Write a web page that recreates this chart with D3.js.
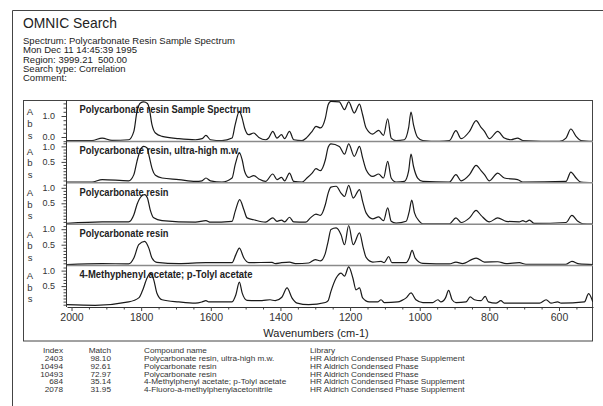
<!DOCTYPE html>
<html>
<head>
<meta charset="utf-8">
<script src="https://cdn.jsdelivr.net/npm/d3@7"></script>
<style>
body { margin: 0; background: #fff; }
svg { display: block; font-family: "Liberation Sans", Arial, Helvetica, sans-serif; }
text { white-space: pre; }
</style>
</head>
<body>
<svg id="chart" width="603" height="406"></svg>
<script>
const headerTitle = "OMNIC Search"
const headerLines = [
    "Spectrum: Polycarbonate Resin Sample Spectrum",
    "Mon Dec 11 14:45:39 1995",
    "Region: 3999.21  500.00",
    "Search type: Correlation",
    "Comment:"
]

const panelTitles = [
    "Polycarbonate resin Sample Spectrum",
    "Polycarbonate resin, ultra-high m.w.",
    "Polycarbonate resin",
    "Polycarbonate resin",
    "4-Methyphenyl acetate; p-Tolyl acetate"
]

const absTicks = [[0.0, 1.0], [0.5, 1.0], [0.5, 1.0], [0.5, 1.0], [0.5, 1.0]]
const wavenumberTicks = [2000, 1800, 1600, 1400, 1200, 1000, 800, 600]
const xAxisTitle = "Wavenumbers (cm-1)"

// [wavenumber, absorbance]
const sampleSpectrum = [
    [2013,-0.17],[1941,-0.17],[1912,-0.05],[1884,-0.16],[1836,-0.13],[1821,0.27],[1812,1.22],[1802,1.62],
    [1793,1.67],[1782,1.60],[1777,1.38],[1769,0.59],[1759,0.19],[1740,0.03],[1692,-0.08],[1644,-0.13],
    [1625,-0.08],[1614,0.08],[1601,-0.13],[1568,-0.17],[1539,-0.05],[1530,0.59],[1518,1.22],[1510,0.90],
    [1503,0.43],[1491,0.11],[1477,0.19],[1462,-0.02],[1443,-0.13],[1434,-0.05],[1422,0.27],[1410,-0.05],
    [1397,0.11],[1388,-0.08],[1374,0.27],[1362,-0.13],[1338,-0.17],[1324,-0.02],[1309,0.27],[1298,0.51],
    [1285,0.43],[1271,0.90],[1263,1.54],[1255,1.70],[1231,1.67],[1216,1.30],[1204,1.67],[1188,1.14],
    [1173,1.57],[1164,1.06],[1154,0.43],[1135,0.14],[1118,0.32],[1104,0.08],[1092,0.87],[1082,-0.05],
    [1068,-0.17],[1044,-0.13],[1032,0.43],[1025,1.19],[1018,0.59],[1006,-0.02],[991,-0.17],[944,-0.21],
    [915,-0.17],[896,0.30],[881,-0.08],[857,0.27],[838,0.78],[824,0.46],[814,0.27],[800,-0.08],
    [776,0.27],[757,-0.05],[738,-0.13],[719,-0.05],[704,-0.17],[599,-0.21],[580,-0.05],[566,0.38],
    [551,0.03],[537,-0.17],[502,-0.21]
]

const ultraHighMw = [
    [2013,-0.15],[1941,-0.15],[1912,-0.07],[1836,-0.11],[1821,0.09],[1812,0.52],[1802,0.89],[1793,1.00],
    [1783,0.95],[1777,0.68],[1769,0.30],[1759,0.07],[1740,-0.02],[1692,-0.07],[1644,-0.13],[1625,-0.11],
    [1614,-0.02],[1601,-0.11],[1568,-0.15],[1539,-0.02],[1530,0.41],[1518,0.79],[1510,0.57],[1503,0.20],
    [1491,0.00],[1477,0.06],[1462,-0.05],[1443,-0.13],[1422,0.11],[1410,-0.07],[1397,0.00],[1388,-0.11],
    [1374,0.14],[1362,-0.13],[1338,-0.15],[1324,-0.02],[1309,0.14],[1298,0.28],[1285,0.22],[1271,0.57],
    [1263,0.97],[1255,1.08],[1231,1.00],[1216,0.75],[1204,1.08],[1188,0.68],[1173,1.00],[1164,0.63],
    [1154,0.25],[1135,0.03],[1118,0.11],[1104,-0.02],[1092,0.52],[1082,-0.02],[1068,-0.15],[1044,-0.13],
    [1032,0.20],[1025,0.75],[1018,0.36],[1006,-0.02],[991,-0.13],[915,-0.15],[896,0.09],[881,-0.11],
    [857,0.09],[838,0.39],[824,0.22],[814,0.09],[800,-0.11],[776,0.14],[757,-0.02],[719,-0.07],
    [704,-0.15],[580,-0.13],[566,0.17],[551,-0.02],[537,-0.15],[502,-0.17]
]

const resin10494 = [
    [2013,-0.15],[1912,-0.10],[1836,-0.10],[1821,0.13],[1812,0.46],[1799,0.73],[1790,0.78],[1782,0.67],
    [1774,0.29],[1764,0.03],[1740,-0.06],[1644,-0.11],[1614,-0.06],[1601,-0.11],[1539,-0.08],[1530,0.24],
    [1517,0.62],[1505,0.29],[1496,0.03],[1477,-0.03],[1443,-0.11],[1422,0.03],[1410,-0.08],[1397,-0.04],
    [1388,-0.10],[1374,0.05],[1362,-0.10],[1328,-0.11],[1314,0.03],[1298,0.15],[1285,0.11],[1271,0.46],
    [1263,0.83],[1255,1.02],[1240,1.05],[1226,0.83],[1216,0.72],[1204,1.08],[1191,0.67],[1173,0.94],
    [1164,0.56],[1154,0.19],[1135,0.00],[1118,0.06],[1104,-0.06],[1092,0.35],[1082,-0.08],[1068,-0.14],
    [1039,-0.08],[1030,0.24],[1023,0.60],[1015,0.19],[1001,-0.08],[991,-0.16],[915,-0.16],[896,0.03],
    [881,-0.12],[857,0.03],[838,0.27],[824,0.11],[800,-0.10],[776,0.03],[752,-0.08],[714,-0.10],
    [704,-0.06],[695,-0.10],[685,-0.04],[671,-0.15],[580,-0.12],[563,0.11],[546,-0.08],[532,-0.16],
    [502,-0.17]
]

const resin10493 = [
    [2013,-0.14],[1912,-0.11],[1836,-0.12],[1821,0.07],[1807,0.50],[1790,0.61],[1778,0.39],[1769,0.07],
    [1755,-0.07],[1692,-0.11],[1614,-0.08],[1539,-0.08],[1528,0.18],[1518,0.39],[1505,0.07],[1491,-0.08],
    [1424,-0.07],[1415,-0.11],[1397,-0.08],[1374,-0.06],[1357,-0.11],[1319,-0.09],[1300,0.02],[1285,-0.02],
    [1271,0.23],[1263,0.61],[1255,0.99],[1240,1.04],[1226,0.82],[1216,0.50],[1204,1.12],[1191,0.50],
    [1173,0.88],[1162,0.39],[1154,0.09],[1135,-0.06],[1111,-0.04],[1102,-0.08],[1089,0.12],[1080,-0.08],
    [1039,-0.08],[1030,0.07],[1022,0.32],[1013,0.07],[991,-0.10],[915,-0.12],[896,-0.06],[877,-0.11],
    [838,0.07],[814,-0.06],[776,-0.05],[752,-0.11],[714,-0.08],[695,-0.13],[580,-0.13],[563,-0.04],
    [542,-0.12],[502,-0.14]
]

const tolylAcetate = [
    [2013,-0.10],[1932,-0.12],[1836,-0.01],[1807,0.12],[1797,0.33],[1783,0.76],[1774,0.92],[1764,0.71],
    [1755,0.28],[1740,0.06],[1692,-0.01],[1644,-0.05],[1625,-0.01],[1614,0.03],[1606,-0.01],[1539,-0.01],
    [1528,0.22],[1518,0.63],[1510,0.28],[1496,0.04],[1453,0.03],[1430,0.06],[1415,0.03],[1396,0.14],
    [1381,0.44],[1367,0.12],[1352,-0.05],[1319,-0.10],[1271,-0.03],[1263,0.03],[1255,0.33],[1240,0.76],
    [1226,0.92],[1216,0.82],[1204,1.12],[1192,0.76],[1183,0.38],[1173,0.44],[1164,0.12],[1145,-0.01],
    [1121,-0.01],[1111,0.06],[1102,-0.03],[1063,-0.01],[1051,0.04],[1039,0.12],[1025,0.28],[1011,0.06],
    [991,-0.03],[963,-0.03],[948,0.06],[939,-0.01],[926,0.12],[917,0.36],[907,0.06],[896,-0.03],
    [867,-0.01],[855,0.15],[843,0.06],[824,0.03],[812,0.17],[803,-0.01],[781,-0.05],[767,0.03],
    [757,-0.05],[656,-0.05],[637,0.06],[623,-0.05],[604,-0.01],[594,-0.05],[527,-0.01],[515,0.26],
    [503,-0.01]
]

const spectra = [sampleSpectrum, ultraHighMw, resin10494, resin10493, tolylAcetate]

const tableHeader = ["Index", "Match", "Compound name", "Library"]
const hitIndex = ["2403", "10494", "10493", "684", "2078"]
const hitMatch = ["98.10", "92.61", "72.97", "35.14", "31.95"]
const hitCompound = [
    "Polycarbonate resin, ultra-high m.w.",
    "Polycarbonate resin",
    "Polycarbonate resin",
    "4-Methylphenyl acetate; p-Tolyl acetate",
    "4-Fluoro-a-methylphenylacetonitrile"
]
const hitLibrary = [
    "HR Aldrich Condensed Phase Supplement",
    "HR Aldrich Condensed Phase",
    "HR Aldrich Condensed Phase",
    "HR Aldrich Condensed Phase Supplement",
    "HR Aldrich Condensed Phase Supplement"
]

// layout
const plotLeft = 66
const plotRight = 593
const plotTop = 100
const plotBottom = 307
const panelH = (plotBottom - plotTop) / spectra.length
const titleWidths = [171, 161, 89, 89, 173]
const ink = "#222"

var svg = d3.select("#chart")

var x = d3.scaleLinear().domain([2013, 502.4]).range([67, plotRight])

// the original type is wide but packed tightly: draw small, then widen
function widen(sel, factor) {
    sel.each(function () {
        let w = this.getComputedTextLength()
        d3.select(this)
            .attr("textLength", w * factor)
            .attr("lengthAdjust", "spacingAndGlyphs")
    })
}

// outer frame
svg.append("path")
    .attr("d", "M12.5,406V10.5H603")
    .attr("fill", "none")
    .attr("stroke", "#444")

svg.append("text")
    .attr("x", 23).attr("y", 27.5)
    .attr("font-size", 15)
    .attr("textLength", 94)
    .attr("lengthAdjust", "spacingAndGlyphs")
    .attr("fill", ink)
    .text(headerTitle)

svg.append("g").selectAll("text")
    .data(headerLines)
    .enter().append("text")
    .attr("x", 23)
    .attr("y", (d, i) => 44 + i * 9.35)
    .attr("font-size", 8.4)
    .attr("fill", ink)
    .text(d => d)
    .call(widen, 1.135)

// inner box
svg.append("rect")
    .attr("x", 23.5).attr("y", 100.5)
    .attr("width", 569).attr("height", 240.5)
    .attr("fill", "none")
    .attr("stroke", "#444")

var defs = svg.append("defs")

spectra.forEach(function (data, i) {
    let top = plotTop + i * panelH
    let y = d3.scaleLinear().domain([0, 1])
        .range(i === 0 ? [top + 37, top + 16] : [top + 36, top + 5])

    defs.append("clipPath").attr("id", "clip" + i)
        .append("rect")
        .attr("x", plotLeft).attr("y", top)
        .attr("width", plotRight - plotLeft).attr("height", panelH)

    let g = svg.append("g")

    if (i > 0) {
        g.append("line")
            .attr("x1", plotLeft).attr("x2", plotRight)
            .attr("y1", top).attr("y2", top)
            .attr("stroke", "#8a8a8a")
            .attr("stroke-width", 1.5)
    }

    // minor ticks
    let lo = y.invert(top + panelH), hi = y.invert(top)
    let step = i === 0 ? 0.2 : 0.1
    let minor = d3.range(Math.ceil(lo / step) * step, hi, step)
        .filter(v => absTicks[i].every(t => Math.abs(t - v) > 1e-6))
    g.append("g")
        .attr("transform", "translate(" + plotLeft + ",0)")
        .call(d3.axisLeft(y).tickValues(minor).tickSize(2.5).tickFormat(""))
        .call(a => a.select(".domain").remove())
        .call(a => a.selectAll("line").attr("stroke", "#444"))

    g.append("g")
        .attr("transform", "translate(" + plotLeft + ",0)")
        .call(d3.axisLeft(y).tickValues(absTicks[i]).tickSize(4.5).tickPadding(6.5).tickFormat(d3.format(".1f")))
        .call(a => a.select(".domain").remove())
        .call(a => a.selectAll("line").attr("stroke", "#444"))
        .call(a => a.selectAll("text")
            .attr("font-size", 8.3)
            .attr("font-family", "Liberation Sans, Arial, sans-serif")
            .attr("fill", "#333")
            .call(widen, 1.08))

    let absOffsets = i === 0 ? [12, 24, 35.5] : [10, 21.5, 33]
    g.append("g").selectAll("text")
        .data(["A", "b", "s"])
        .enter().append("text")
        .attr("x", 30)
        .attr("y", (d, k) => top + absOffsets[k] + 3.4)
        .attr("text-anchor", "middle")
        .attr("font-size", 9.5)
        .attr("fill", "#333")
        .text(d => d)

    g.append("text")
        .attr("x", 79.5)
        .attr("y", top + 12.7)
        .attr("font-size", 10)
        .attr("font-weight", "bold")
        .attr("textLength", titleWidths[i])
        .attr("lengthAdjust", "spacingAndGlyphs")
        .attr("fill", ink)
        .text(panelTitles[i])

    g.append("path")
        .datum(data)
        .attr("clip-path", "url(#clip" + i + ")")
        .attr("fill", "none")
        .attr("stroke", "#1a1a1a")
        .attr("stroke-width", 1.2)
        .attr("stroke-linejoin", "round")
        .attr("d", d3.line()
            .x(d => x(d[0]))
            .y(d => y(d[1]))
            .curve(d3.curveMonotoneX))
})

// y axis line
svg.append("line")
    .attr("x1", plotLeft + 0.5).attr("x2", plotLeft + 0.5)
    .attr("y1", plotTop).attr("y2", plotBottom)
    .attr("stroke", "#333")

// x axis
var minorWn = d3.range(550, 2001, 50).filter(v => v % 200 !== 0)
svg.append("g")
    .attr("transform", "translate(0," + plotBottom + ")")
    .call(d3.axisBottom(x).tickValues(minorWn).tickSize(2.5).tickFormat(""))
    .call(a => a.select(".domain").remove())
    .call(a => a.selectAll("line").attr("stroke", "#444"))

svg.append("g")
    .attr("transform", "translate(0," + plotBottom + ")")
    .call(d3.axisBottom(x).tickValues(wavenumberTicks).tickSize(4).tickSizeOuter(0).tickPadding(3).tickFormat(d3.format("d")))
    .call(a => a.select(".domain").attr("stroke", "#333"))
    .call(a => a.selectAll("line").attr("stroke", "#444"))
    .call(a => a.selectAll("text")
        .attr("font-size", 10.5)
        .attr("font-family", "Liberation Sans, Arial, sans-serif")
        .attr("fill", "#333"))

svg.append("text")
    .attr("x", 316).attr("y", 337)
    .attr("text-anchor", "middle")
    .attr("font-size", 11)
    .attr("fill", ink)
    .text(xAxisTitle)

// hit table
var cols = [
    { x: 63, anchor: "end", values: hitIndex },
    { x: 111, anchor: "end", values: hitMatch },
    { x: 144, anchor: "start", values: hitCompound },
    { x: 310, anchor: "start", values: hitLibrary }
]
var table = svg.append("g").attr("font-size", 6.9).attr("fill", "#333")
cols.forEach(function (c, k) {
    table.append("text")
        .attr("x", c.x).attr("y", 353.3)
        .attr("text-anchor", c.anchor)
        .text(tableHeader[k])
        .call(widen, 1.19)
    table.selectAll(null)
        .data(c.values)
        .enter().append("text")
        .attr("x", c.x)
        .attr("y", (d, r) => 361.1 + r * 7.7)
        .attr("text-anchor", c.anchor)
        .text(d => d)
        .call(widen, 1.19)
})
</script>
</body>
</html>
